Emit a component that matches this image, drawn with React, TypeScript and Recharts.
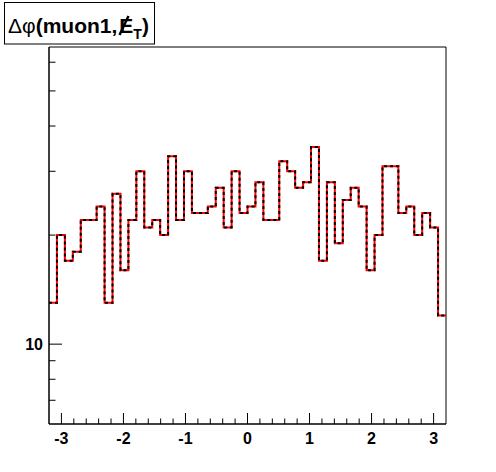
import { LineChart, Line, XAxis, YAxis, ReferenceArea } from 'recharts';

// Δφ(muon1, MET) histogram: 50 bins over [-3.2, 3.2]
const xLow = -3.2;
const xHigh = 3.2;
const counts = [
  13, 20, 17, 18, 22, 22, 24, 13, 26, 16,
  22, 30, 21, 22, 20, 33, 22, 30, 23, 23,
  24, 27, 21, 30, 23, 24, 28, 22, 22, 32,
  30, 27, 28, 35, 17, 28, 19, 25, 27, 24,
  16, 20, 31, 31, 23, 24, 20, 23, 21, 12,
];

const xTicks = [
  -3, -2.8, -2.6, -2.4, -2.2, -2, -1.8, -1.6, -1.4, -1.2, -1, -0.8, -0.6, -0.4, -0.2,
  0, 0.2, 0.4, 0.6, 0.8, 1, 1.2, 1.4, 1.6, 1.8, 2, 2.2, 2.4, 2.6, 2.8, 3,
];
const yTicks = [7, 8, 9, 10, 20, 30, 40, 50, 60];
const yMin = 6.02;
const yMax = 66.1;

const binWidth = (xHigh - xLow) / counts.length;
const data = [
  ...counts.map((c, i) => ({ x: xLow + i * binWidth, v: c })),
  { x: xHigh, v: counts[counts.length - 1] },
];

const FONT = 'Liberation Sans, Arial, Helvetica, sans-serif';

// eslint-disable-next-line @typescript-eslint/no-explicit-any
function XTick({ x, y, payload }: any) {
  const v = payload.value as number;
  const major = Math.abs(v - Math.round(v)) < 1e-6;
  return (
    <g>
      <line x1={x} x2={x} y1={y} y2={y - (major ? 11 : 5.5)} stroke="#000" strokeWidth={1} />
      {major && (
        <text x={x} y={y + 20} textAnchor="middle" fontSize={16} fontWeight="bold" fontFamily={FONT} fill="#000">
          {String(Math.round(v))}
        </text>
      )}
    </g>
  );
}

// eslint-disable-next-line @typescript-eslint/no-explicit-any
function YTick({ x, y, payload }: any) {
  const v = payload.value as number;
  const major = v === 10;
  return (
    <g>
      <line x1={x} x2={x + (major ? 13 : 6.5)} y1={y} y2={y} stroke="#000" strokeWidth={1} />
      {major && (
        <text x={x - 6} y={y + 6} textAnchor="end" fontSize={16} fontWeight="bold" fontFamily={FONT} fill="#000">
          {v}
        </text>
      )}
    </g>
  );
}

export default function App() {
  return (
    <div style={{ position: 'absolute', left: 0, top: 0, width: 496, height: 472, background: '#fff' }}>
      <LineChart width={496} height={472} data={data} margin={{ top: 47, right: 50, bottom: 0, left: 0 }}>
        <XAxis
          dataKey="x"
          type="number"
          domain={[xLow, xHigh]}
          ticks={xTicks}
          interval={0}
          tickLine={false}
          tickSize={0}
          tickMargin={0}
          axisLine={{ stroke: '#000' }}
          tick={<XTick />}
          height={48}
          allowDataOverflow
        />
        <YAxis
          type="number"
          scale="log"
          domain={[yMin, yMax]}
          ticks={yTicks}
          interval={0}
          tickLine={false}
          tickSize={0}
          tickMargin={0}
          axisLine={{ stroke: '#000' }}
          tick={<YTick />}
          width={49}
          allowDataOverflow
        />
        <ReferenceArea
          x1={xLow}
          x2={xHigh}
          y1={yMin}
          y2={yMax}
          fill="none"
          fillOpacity={0}
          stroke="#000"
          strokeWidth={1}
          ifOverflow="visible"
        />
        <Line
          dataKey="v"
          type="stepAfter"
          stroke="#ff0000"
          strokeWidth={2}
          dot={false}
          activeDot={false}
          isAnimationActive={false}
        />
        <Line
          dataKey="v"
          type="stepAfter"
          stroke="#000"
          strokeWidth={2}
          strokeDasharray="3 3"
          dot={false}
          activeDot={false}
          isAnimationActive={false}
        />
      </LineChart>
      <svg width={496} height={60} style={{ position: 'absolute', left: 0, top: 0 }}>
        <rect x={4.5} y={2.5} width={150} height={41.5} fill="#fff" stroke="#000" strokeWidth={1} />
        <text x={8} y={33} fontSize={21} fontWeight="bold" fontFamily={FONT} fill="#000">
          <tspan fontWeight="normal">Δφ</tspan>
          (muon1,
          <tspan dx={2}>E</tspan>
          <tspan fontSize={14} dy={6}>T</tspan>
          <tspan dy={-6}>)</tspan>
        </text>
        <line x1={119.5} y1={35} x2={128.5} y2={16} stroke="#000" strokeWidth={2.5} />
      </svg>
    </div>
  );
}
